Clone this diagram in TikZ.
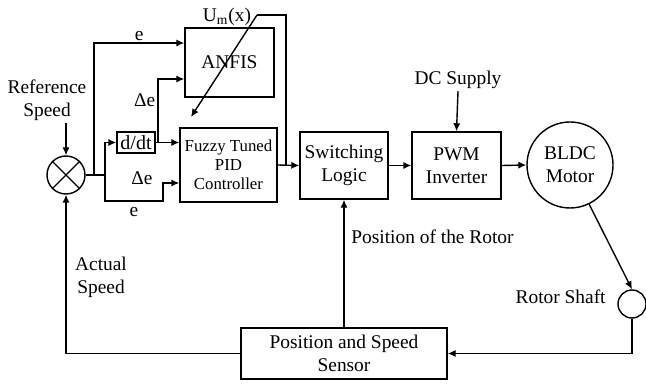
\documentclass[tikz,border=0pt]{standalone}
\usepackage{fontspec}
\setmainfont{Liberation Serif}
\usetikzlibrary{positioning,calc}
\usetikzlibrary{arrows.meta}
\tikzset{blk/.style={draw=black,line width=0.7pt,fill=white,align=center,inner sep=1pt,font=\fontsize{9.7}{11.5}\selectfont}, rnd/.style={circle,draw=black,line width=0.7pt,fill=white,inner sep=0pt,align=center,font=\fontsize{9.7}{11.5}\selectfont}, lbl/.style={align=center,inner sep=1pt,font=\fontsize{9.7}{11.5}\selectfont}, con/.style={line width=0.7pt,-{Latex[length=4pt,width=3.6pt]}}, wire/.style={line width=0.7pt}}

\begin{document}
\begin{tikzpicture}[x=0.5pt,y=-0.5pt]
\useasboundingbox (0,0) rectangle (646,384);
\coordinate (j1) at (94,175);
\coordinate (j2) at (105,175);
\coordinate (j3) at (163,201);
\coordinate (j4) at (158,142.5);
\coordinate (j5) at (286,165);
\coordinate (um) at (257,15);
\coordinate (tune) at (191,117);
\node[rnd,minimum size=19pt] (sum) at (66,175) {};
\draw[wire] (sum.45) -- (sum.225) (sum.135) -- (sum.315);
\node[lbl] (refsp) at (47,100) {Reference\\Speed};
\node[blk,minimum width=44.5pt,minimum height=34.5pt] (anfis) at (229.5,62.5) {ANFIS};
\node[blk,minimum width=48.5pt,minimum height=37pt,font=\fontsize{8.4}{9.6}\selectfont] (fuzzy) at (228.5,165) {Fuzzy Tuned\\PID\\Controller};
\node[blk,minimum width=19pt,minimum height=10.5pt,inner sep=0pt,font=\fontsize{10}{12}\selectfont] (ddt) at (136,142.5) {d/dt};
\node[blk,minimum width=44pt,minimum height=33.5pt] (sw) at (344,165.5) {Switching\\Logic};
\node[blk,minimum width=44.5pt,minimum height=33.5pt] (pwm) at (456.5,165.5) {PWM\\Inverter};
\node[rnd,minimum size=43pt] (bldc) at (570,165) {BLDC\\Motor};
\node[rnd,minimum size=14pt] (shaft) at (632,304) {};
\node[blk,minimum width=103pt,minimum height=25.5pt] (sensor) at (344,353.5) {Position and Speed\\Sensor};
\node[lbl] (dc) at (458,80) {DC Supply};
\node[lbl] (umlbl) at (227,17) {U\textsubscript{m}(x)};
\node[lbl] (de2) at (142,178) {Δe};
\node[lbl] (act) at (101,277) {Actual\\Speed};
\node[lbl,anchor=west] (rotpos) at (349,237) {Position of the Rotor};
\node[lbl,anchor=east] (shaftlbl) at (608,297) {Rotor Shaft};
\draw[con] (refsp.south -| sum.north) -- (sum.north);
\draw[wire] (sum.east) -- (j2);
\draw[con] (j1) |- ([yshift=9.75pt]anfis.west) node[pos=0.75,lbl,above]{e};
\draw[con] (j2) |- (ddt.west);
\draw[con] (j2) |- (j3) node[pos=0.75,lbl,below=2pt]{e} |- ([yshift=-9pt]fuzzy.west);
\draw[con] (ddt.east) -- (fuzzy.west |- ddt.east);
\draw[con] (j4) |- ([yshift=-8.25pt]anfis.west) node[pos=0.33,lbl,left]{Δe};
\draw[con] (fuzzy.east) -- (sw.west);
\draw[wire] (um) -| (j5);
\draw[con] (um) -- (tune);
\draw[con] (sw.east) -- (pwm.west);
\draw[con] (pwm.east) -- (bldc.west);
\draw[con] (dc.south) -- (pwm.north);
\draw[con] (bldc.-64) -- (shaft.north);
\draw[con] (shaft.south) |- (sensor.east);
\draw[con] (sensor.west) -| (sum.south);
\draw[con] (sensor.north) -- (sw.south);
\end{tikzpicture}
\end{document}
